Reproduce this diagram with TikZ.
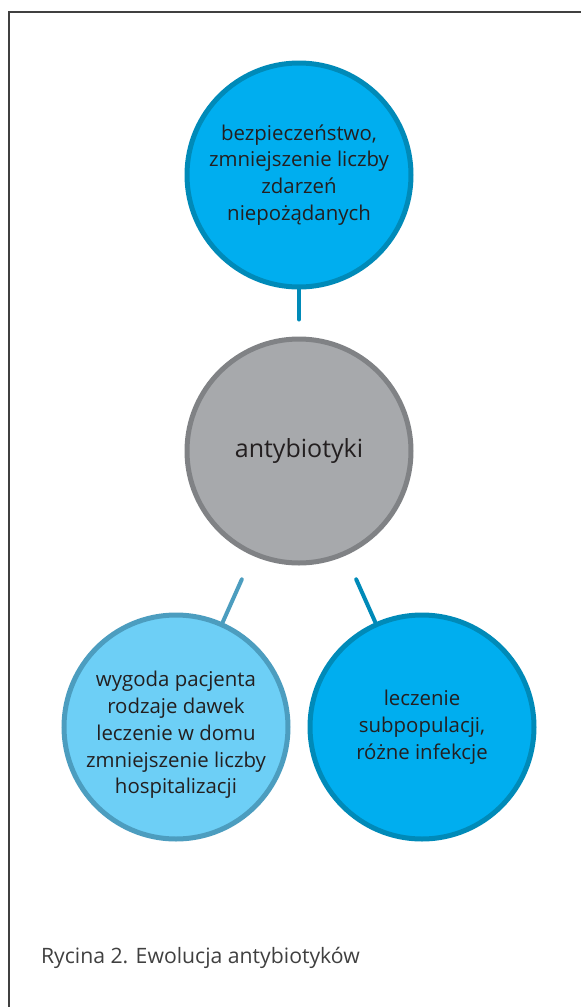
\documentclass[tikz,border=0pt]{standalone}
\usepackage{fontspec}
\setmainfont{Open Sans}
\usepackage{xcolor}
\usetikzlibrary{positioning}

\definecolor{cyanfill}{HTML}{00AEEF}
\definecolor{cyanline}{HTML}{008AB8}
\definecolor{lightfill}{HTML}{6DCFF6}
\definecolor{lightline}{HTML}{4C9DBF}
\definecolor{grayfill}{HTML}{A7A9AC}
\definecolor{grayline}{HTML}{808285}
\definecolor{textdark}{HTML}{231F20}
\definecolor{framegray}{HTML}{404040}

\begin{document}
\begin{tikzpicture}[
  x=0.5pt, y=-0.5pt,
  bubble/.style={circle, draw=cyanline, fill=cyanfill, line width=2.5pt, minimum size=112pt, inner sep=0pt, align=center, text=textdark, font=\fontsize{10.2}{13.4}\selectfont},
  link/.style={line width=2pt, line cap=round, shorten <=13pt},
]
\useasboundingbox (0,0) rectangle (581,1007);
\draw[framegray, line width=0.7pt] (581,12) -- (9,12) -- (9,1007);

\node[bubble, draw=grayline, fill=grayfill, font=\fontsize{12.5}{15}\selectfont] (core) at (299,451) {antybiotyki};
\node[bubble] (safety) at (299,175) {bezpieczeństwo,\\zmniejszenie liczby\\zdarzeń\\niepożądanych};
\node[bubble, draw=lightline, fill=lightfill] (comfort) at (176,727) {\raisebox{-4pt}[\height][\depth]{\begin{tabular}{@{}c@{}}wygoda pacjenta\\rodzaje dawek\\leczenie w domu\\zmniejszenie liczby\\hospitalizacji\end{tabular}}};
\node[bubble] (subpop) at (422,727) {leczenie\\subpopulacji,\\różne infekcje};

\draw[link, cyanline, shorten <=8.5pt] (core) -- (safety);
\draw[link, lightline] (core) -- (comfort);
\draw[link, cyanline] (core) -- (subpop);

\node[anchor=west, text=framegray, font=\fontsize{10.6}{13}\selectfont] (caption) at (34,958) {Rycina 2. Ewolucja antybiotyków};
\end{tikzpicture}
\end{document}
